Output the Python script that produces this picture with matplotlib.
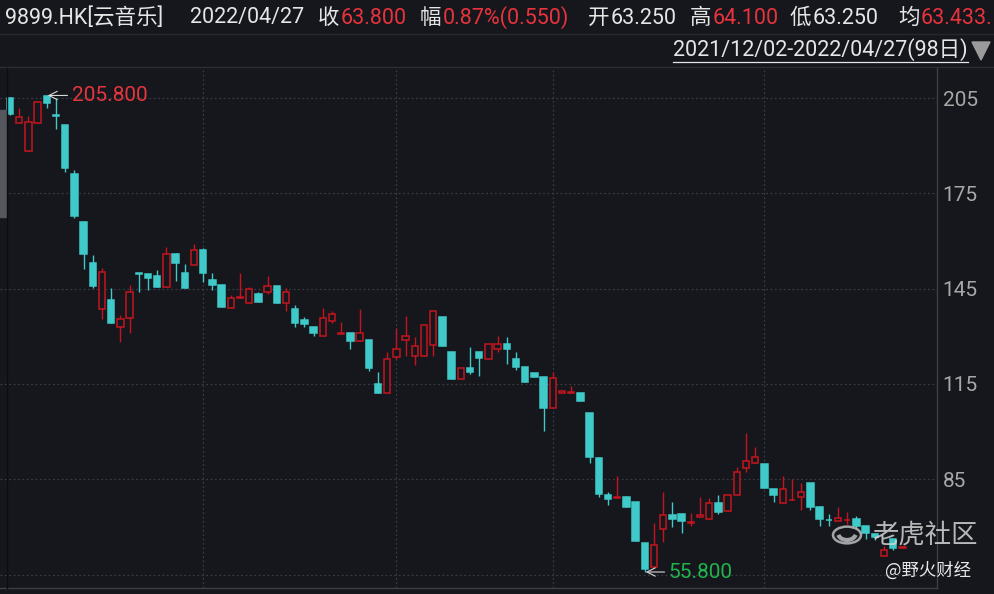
import matplotlib
matplotlib.use("Agg")
import matplotlib.pyplot as plt
from matplotlib.patches import Rectangle, Polygon, Circle, Arc
from matplotlib.lines import Line2D

plt.rcParams['font.family'] = ['Roboto', 'Noto Sans CJK SC', 'DejaVu Sans']

# ---------------- data ----------------
opens = [205.1, 197.2, 188.2, 197.2, 205.6, 199.8, 196.5, 181.1, 166.1, 153.1,
         138.5, 141.4, 132.8, 135.7, 149.8, 149.5, 149.0, 145.6, 155.9, 149.8,
         152.3, 157.2, 147.7, 146.1, 139.0, 142.2, 140.6, 143.2, 144.0, 145.8,
         140.4, 138.6, 135.1, 133.0, 130.2, 134.9, 130.8, 130.9, 128.6, 128.8,
         114.9, 112.2, 123.4, 128.7, 123.8, 123.8, 127.3, 136.0, 124.9, 116.5,
         119.9, 124.9, 122.8, 125.9, 127.6, 123.0, 120.4, 118.5, 117.1, 107.5,
         112.2, 112.3, 112.1, 105.8, 91.6, 80.0, 79.2, 79.5, 77.7, 64.8,
         57.3, 69.3, 73.6, 74.1, 71.3, 73.1, 72.4, 77.4, 75.1, 80.0,
         88.4, 90.2, 89.7, 81.8, 77.4, 78.4, 79.3, 83.9, 76.4, 72.3,
         71.9, 72.1, 72.5, 70.3, 67.8, 60.7, 66.1, 63.25]
highs = [205.4, 202.0, 199.4, 203.6, 205.8, 204.9, 196.5, 182.3, 166.3, 155.6,
         151.6, 145.1, 136.7, 146.1, 149.9, 149.6, 150.9, 158.2, 156.2, 152.7,
         159.0, 157.8, 149.8, 146.1, 143.0, 150.0, 145.6, 144.0, 149.1, 145.8,
         145.1, 139.8, 136.2, 133.0, 138.8, 138.0, 134.4, 130.9, 138.6, 128.8,
         118.7, 125.1, 132.5, 136.5, 129.9, 133.6, 138.0, 136.0, 124.9, 119.9,
         126.7, 124.9, 127.5, 130.1, 129.7, 125.0, 120.4, 118.5, 117.1, 118.9,
         112.7, 114.4, 112.1, 105.8, 92.0, 80.9, 86.1, 79.6, 77.7, 64.8,
         71.2, 81.1, 77.7, 74.1, 74.3, 79.3, 79.0, 80.0, 80.0, 88.8,
         99.5, 95.0, 89.7, 81.8, 86.0, 85.0, 83.9, 83.9, 76.6, 74.1,
         76.2, 74.8, 73.3, 70.3, 67.8, 64.0, 66.1, 64.1]
lows = [199.8, 197.0, 188.2, 197.2, 201.9, 195.1, 181.8, 167.1, 151.2, 145.1,
        135.3, 134.3, 128.3, 130.9, 144.0, 144.6, 145.6, 145.6, 147.4, 145.3,
        152.3, 147.2, 144.6, 139.3, 139.0, 142.2, 140.6, 140.9, 143.2, 140.4,
        138.0, 133.0, 133.0, 130.2, 130.2, 134.1, 130.8, 126.0, 128.6, 119.1,
        112.2, 112.2, 123.0, 123.9, 121.0, 123.8, 123.8, 127.0, 116.5, 116.5,
        118.0, 117.6, 122.8, 125.1, 121.3, 119.4, 115.7, 117.3, 100.2, 107.5,
        112.2, 112.3, 109.5, 90.2, 79.3, 76.9, 79.2, 76.2, 65.7, 55.8,
        57.3, 65.4, 70.1, 68.0, 70.4, 73.1, 72.4, 74.0, 75.1, 80.0,
        87.4, 90.2, 82.1, 77.7, 77.4, 78.4, 75.3, 75.3, 70.3, 70.3,
        71.9, 70.9, 69.8, 66.1, 66.0, 60.7, 62.7, 63.25]
closes = [200.0, 198.9, 197.3, 203.6, 203.3, 199.4, 183.1, 167.9, 155.9, 145.7,
          150.1, 134.3, 135.3, 143.8, 149.6, 148.4, 145.6, 155.9, 153.2, 145.3,
          157.2, 149.8, 146.1, 139.3, 142.0, 142.4, 144.9, 140.9, 145.8, 140.4,
          143.8, 134.3, 133.8, 131.1, 135.7, 136.9, 131.0, 128.6, 130.9, 120.1,
          112.2, 123.0, 125.9, 130.2, 127.0, 133.6, 138.0, 127.0, 116.5, 119.9,
          118.9, 123.3, 127.5, 127.5, 126.1, 120.4, 115.7, 117.3, 107.5, 116.8,
          112.7, 112.4, 109.5, 92.1, 80.3, 78.7, 79.4, 76.4, 65.7, 56.8,
          64.3, 73.6, 72.4, 71.7, 71.5, 73.9, 77.4, 74.8, 80.0, 87.2,
          90.7, 91.9, 82.1, 80.0, 81.8, 78.6, 81.1, 76.4, 72.4, 72.1,
          72.9, 72.3, 70.3, 68.0, 66.7, 62.6, 63.25, 63.8]
month_start_idx = [21, 42, 59, 82]          # first trading day of Jan, Feb, Mar, Apr
y_ticks = [205, 175, 145, 115, 85]
grid_levels = [55, 85, 115, 145, 175, 205]
high_label = "205.800"
low_label = "55.800"

# header: (label, value, value colour)
header_items = [
    ("9899.HK[云音乐]", "", 'w'),
    ("2022/04/27", "", 'w'),
    ("收", "63.800", 'r'),
    ("幅", "0.87%(0.550)", 'r'),
    ("开", "63.250", 'w'),
    ("高", "64.100", 'r'),
    ("低", "63.250", 'w'),
    ("均", "63.433.", 'r'),
]
header_x = [5, 190, 318, 420, 588, 690, 790, 898]
range_text = "2021/12/02-2022/04/27(98日)"

# ---------------- style ----------------
BG = '#15171c'
RED = '#c4151f'
CYAN = '#40c9c9'
HRED = '#e8333d'
WHITE = '#e6e6e6'
GRID = '#383b43'
GREEN = '#22b24c'

W, H = 994, 594
fig = plt.figure(figsize=(W / 100, H / 100), dpi=100, facecolor=BG)


def fx(x):
    return x / W


def fy(y):
    return 1 - y / H


ax = fig.add_axes([0, fy(588), fx(937), (588 - 68) / H])
ax.set_facecolor(BG)
n = len(opens)
xs = list(range(n))
ax.set_xlim(-10 / 9.2, 927 / 9.2)
ax.set_ylim(205 - (588 - 98) / 3.177, 205 + (98 - 68) / 3.177)

for g in grid_levels:
    ax.axhline(g, color=GRID, lw=0.9, ls=(0, (1.5, 2)), zorder=1)
for m in month_start_idx:
    ax.axvline(m, color=GRID, lw=0.9, ls=(0, (1.5, 2)), zorder=1)

for i in xs:
    o, h, l, c = opens[i], highs[i], lows[i], closes[i]
    up = c >= o
    col = RED if up else CYAN
    ax.vlines(i, l, h, color=col, lw=1.0, zorder=2)
    bottom = min(o, c)
    height = max(abs(c - o), 0.12)
    ax.bar(i, height, bottom=bottom, width=0.7,
           facecolor=(BG if up else CYAN), edgecolor=col, linewidth=1.1, zorder=3)

hi_i = highs.index(max(highs))
lo_i = lows.index(min(lows))
ax.annotate(high_label, xy=(hi_i + 0.1, max(highs)), xytext=(6.7, max(highs)),
            color='#e5353d', fontsize=15, va='center', ha='left',
            arrowprops=dict(arrowstyle='->', color='#d8d8d8', lw=0.8,
                            shrinkA=1, shrinkB=0), zorder=5)
ax.annotate(low_label, xy=(lo_i + 0.1, min(lows)), xytext=(71.6, min(lows)),
            color=GREEN, fontsize=15, va='center', ha='left',
            arrowprops=dict(arrowstyle='->', color='#d8d8d8', lw=0.8,
                            shrinkA=1, shrinkB=0), zorder=5)

ax.yaxis.tick_right()
ax.set_yticks(y_ticks)
ax.set_yticklabels([str(v) for v in y_ticks])
ax.tick_params(axis='y', length=0, pad=4, labelsize=15, labelcolor='#a8a8a8')
ax.set_xticks([])
for s in ['top', 'left']:
    ax.spines[s].set_visible(False)
for s in ['right', 'bottom']:
    ax.spines[s].set_color('#3c3f47')
    ax.spines[s].set_linewidth(1.0)

# ---------------- header ----------------
renderer = fig.canvas.get_renderer()
HS = 15.5
for (lab, val, c), x in zip(header_items, header_x):
    t = fig.text(fx(x), fy(18), lab, color=WHITE, fontsize=HS, va='center', ha='left')
    if val:
        bb = t.get_window_extent(renderer)
        fig.text(bb.x1 / W + 1 / W, fy(18), val, color=(HRED if c == 'r' else WHITE),
                 fontsize=HS, va='center', ha='left')

fig.add_artist(Line2D([0, 1], [fy(34), fy(34)], color='#24272d', lw=1))
fig.add_artist(Line2D([0, 1], [fy(67), fy(67)], color='#2a2d33', lw=1))
rt = fig.text(fx(968), fy(50), range_text, color=WHITE, fontsize=HS,
              va='center', ha='right')
rb = rt.get_window_extent(renderer)
fig.add_artist(Line2D([rb.x0 / W, fx(968)], [fy(62), fy(62)], color=WHITE, lw=0.9))
fig.add_artist(Polygon([(fx(972), fy(42)), (fx(990), fy(42)), (fx(981), fy(60))],
                       closed=True, color='#9a9a9a', transform=fig.transFigure))

# left scroll bar
fig.add_artist(Rectangle((0, fy(217)), fx(6), (217 - 110) / H, color='#55575e',
                         transform=fig.transFigure))
fig.add_artist(Line2D([fx(7), fx(7)], [fy(588), fy(68)], color='#0c0d10', lw=1))

# ---------------- watermark ----------------
fig.add_artist(Circle((fx(847), fy(535)), 14 / W, transform=fig.transFigure,
                      fill=False, ec='#c8c8c8', lw=1.8, alpha=0.8))
fig.add_artist(Arc((fx(847), fy(533)), 18 / W, 14 / H, theta1=200, theta2=340,
                   transform=fig.transFigure, ec='#c8c8c8', lw=3, alpha=0.8))
fig.text(fx(872), fy(535), "老虎社区", color='#d5d5d5', alpha=0.85, fontsize=19,
         va='center', ha='left', family=['Noto Sans CJK SC'], weight='medium')
fig.text(fx(885), fy(571), "@野火财经", color='#e8e8e8', fontsize=12.5,
         va='center', ha='left', family=['Noto Sans CJK SC', 'DejaVu Sans'])

fig.savefig('out.png', dpi=100, facecolor=BG)
